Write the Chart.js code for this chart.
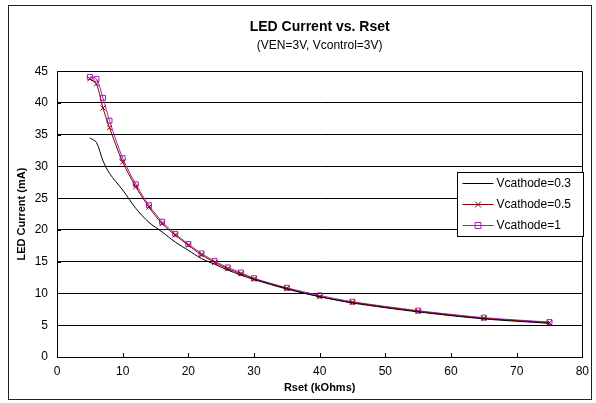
<!DOCTYPE html>
<html>
<head>
<meta charset="utf-8">
<script src="https://cdn.jsdelivr.net/npm/chart.js@4/dist/chart.umd.min.js"></script>
<style>
html,body{margin:0;padding:0;background:#fff;}
#wrap{width:596px;height:403px;}
</style>
</head>
<body>
<div id="wrap"><canvas id="c" width="596" height="403"></canvas></div>
<script>
const rset = [5, 6, 7, 8, 10, 12, 14, 16, 18, 20, 22, 24, 26, 28, 30, 35, 40, 45, 55, 65, 75];
const vc03 = [34.5, 33.8, 30.9, 28.9, 26.3, 23.4, 21.2, 19.7, 18.1, 16.8, 15.5, 14.6, 13.7, 12.9, 12.2, 10.7, 9.5, 8.5, 7.1, 6.0, 5.3];
const vc05 = [43.8, 43.0, 39.2, 36.1, 30.7, 26.8, 23.6, 21.0, 19.2, 17.6, 16.1, 14.9, 13.9, 13.1, 12.3, 10.8, 9.5, 8.6, 7.2, 6.1, 5.4];
const vc1  = [44.1, 43.8, 40.8, 37.2, 31.3, 27.2, 23.9, 21.3, 19.4, 17.8, 16.3, 15.1, 14.1, 13.3, 12.4, 10.9, 9.7, 8.7, 7.3, 6.2, 5.5];
const seriesNames = ['Vcathode=0.3', 'Vcathode=0.5', 'Vcathode=1'];
const yTicks = [0, 5, 10, 15, 20, 25, 30, 35, 40, 45];
const xTicks = [0, 10, 20, 30, 40, 50, 60, 70, 80];

const FONT = "'Liberation Sans', Arial, sans-serif";
const pts = arr => arr.map((v, i) => ({x: rset[i], y: v}));

const frame = {
  id: 'frame',
  beforeDraw(chart) {
    const ctx = chart.ctx;
    ctx.save();
    ctx.fillStyle = '#fff';
    ctx.fillRect(0, 0, chart.width, chart.height);
    ctx.strokeStyle = '#222';
    ctx.lineWidth = 1;
    ctx.strokeRect(8.5, 5.5, 583, 394);
    ctx.restore();
  },
  afterDatasetsDraw(chart) {
    const ctx = chart.ctx, a = chart.chartArea;
    const xs = chart.scales.x, ys = chart.scales.y;
    ctx.save();
    ctx.strokeStyle = '#000';
    ctx.lineWidth = 1;
    ctx.beginPath();
    ctx.rect(Math.round(a.left) + 0.5, Math.round(a.top) + 0.5, Math.round(a.right - a.left), Math.round(a.bottom - a.top));
    ctx.stroke();
    ctx.beginPath();
    xTicks.forEach(t => {
      const px = Math.round(xs.getPixelForValue(t)) + 0.5;
      ctx.moveTo(px, a.bottom); ctx.lineTo(px, a.bottom - 4);
    });
    yTicks.forEach(t => {
      const py = Math.round(ys.getPixelForValue(t)) + 0.5;
      ctx.moveTo(a.left, py); ctx.lineTo(a.left + 4, py);
    });
    ctx.stroke();
    // legend
    const lx = 457.5, ly = 172.5, lw = 126, lh = 64;
    ctx.fillStyle = '#fff';
    ctx.fillRect(lx, ly, lw, lh);
    ctx.strokeStyle = '#000';
    ctx.strokeRect(lx, ly, lw, lh);
    ctx.font = '12px ' + FONT;
    ctx.textBaseline = 'middle';
    chart.data.datasets.forEach((ds, i) => {
      const y = ly + 11 + i * 21;
      ctx.strokeStyle = ds.borderColor;
      ctx.lineWidth = 1;
      ctx.beginPath(); ctx.moveTo(lx + 5, y); ctx.lineTo(lx + 36, y); ctx.stroke();
      if (ds.pointStyle && ds.pointRadius > 0) {
        const cx = lx + 20.5;
        ctx.beginPath();
        if (ds.pointStyle === 'crossRot') {
          ctx.moveTo(cx - 3, y - 3); ctx.lineTo(cx + 3, y + 3);
          ctx.moveTo(cx - 3, y + 3); ctx.lineTo(cx + 3, y - 3);
        } else {
          ctx.rect(cx - 3, y - 3, 6, 6);
        }
        ctx.stroke();
      }
      ctx.fillStyle = '#000';
      ctx.fillText(ds.label, lx + 39, y);
    });
    ctx.restore();
  }
};

new Chart(document.getElementById('c'), {
  type: 'line',
  data: {
    datasets: [
      {label: seriesNames[0], data: pts(vc03), borderColor: '#000000', borderWidth: 1, pointRadius: 0, pointStyle: false, tension: 0.3},
      {label: seriesNames[1], data: pts(vc05), borderColor: '#8B0000', borderWidth: 1, pointStyle: 'crossRot', pointRadius: 3.5, pointBorderColor: '#8B0000', pointBackgroundColor: 'rgba(0,0,0,0)', pointBorderWidth: 1, tension: 0.3},
      {label: seriesNames[2], data: pts(vc1), borderColor: '#A020B0', borderWidth: 1, pointStyle: 'rect', pointRadius: 3.5, pointBorderColor: '#A020B0', pointBackgroundColor: 'rgba(0,0,0,0)', pointBorderWidth: 1, tension: 0.3}
    ]
  },
  options: {
    responsive: false,
    animation: false,
    devicePixelRatio: 1,
    layout: {padding: {left: 12, right: 10, top: 8, bottom: 8}},
    plugins: {
      legend: {display: false},
      tooltip: {enabled: false},
      title: {display: true, text: 'LED Current vs. Rset', fullSize: false, color: '#000', font: {family: FONT, size: 14, weight: 'bold'}, padding: {top: 11, bottom: 3}},
      subtitle: {display: true, text: '(VEN=3V, Vcontrol=3V)', fullSize: false, color: '#000', font: {family: FONT, size: 12}, padding: {top: 0, bottom: 18}}
    },
    scales: {
      x: {
        type: 'linear', min: 0, max: 80,
        afterBuildTicks: s => { s.ticks = xTicks.map(v => ({value: v})); },
        afterFit: s => { s.height = 38; },
        grid: {display: false, drawTicks: false, tickLength: 0},
        border: {display: true, color: '#000', width: 1},
        ticks: {color: '#000', font: {family: FONT, size: 12}, padding: 7, maxRotation: 0},
        title: {display: true, text: 'Rset (kOhms)', color: '#000', font: {family: FONT, size: 11, weight: 'bold'}, padding: {top: 0, bottom: 0}}
      },
      y: {
        type: 'linear', min: 0, max: 45,
        afterBuildTicks: s => { s.ticks = yTicks.map(v => ({value: v})); },
        afterFit: s => { s.width = 45; },
        grid: {color: '#000', lineWidth: 1, drawTicks: false, tickLength: 0},
        border: {display: true, color: '#000', width: 1},
        ticks: {color: '#000', font: {family: FONT, size: 12}, padding: 9},
        title: {display: true, text: 'LED Current (mA)', color: '#000', font: {family: FONT, size: 11, weight: 'bold'}, padding: {top: 3, bottom: 0}}
      }
    }
  },
  plugins: [frame]
});
</script>
</body>
</html>
